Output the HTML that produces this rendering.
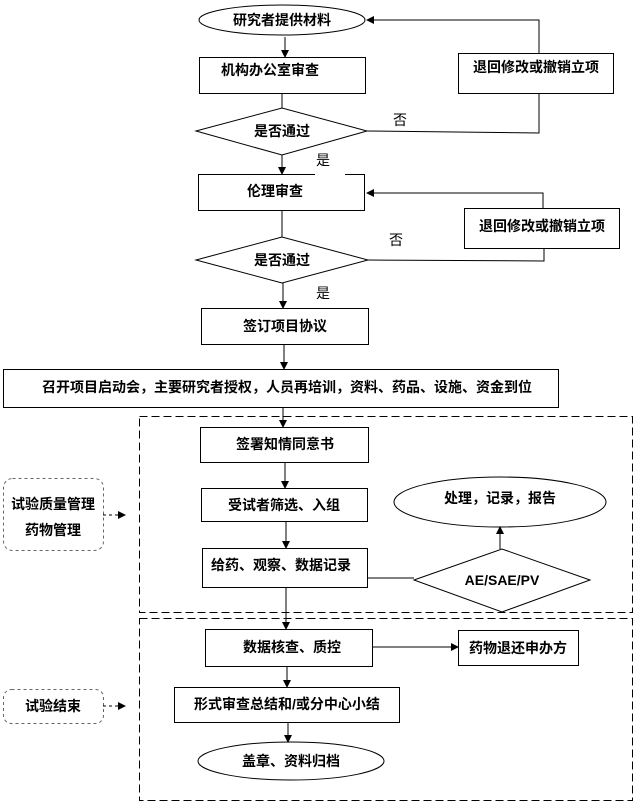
<!DOCTYPE html>
<html><head><meta charset="utf-8"><style>
html,body{margin:0;padding:0;background:#fff;}
svg text{font-family:"Liberation Sans","Noto Sans CJK SC",sans-serif;font-size:14px;font-weight:bold;fill:#000;}
.n{font-weight:normal}
</style></head><body>
<svg width="633" height="802" viewBox="0 0 633 802" xmlns="http://www.w3.org/2000/svg">
<defs><marker id="a" markerWidth="8" markerHeight="8" refX="7" refY="4" orient="auto" markerUnits="userSpaceOnUse"><path d="M0,0 L8,4 L0,8 z" fill="#000"/></marker></defs>
<g fill="none" stroke="#000" stroke-width="1">
<ellipse cx="282" cy="20" rx="83" ry="15"/>
<rect x="199.5" y="57.5" width="166" height="36"/>
<rect x="458.5" y="53.5" width="155" height="40"/>
<polygon points="196,131 282,108 367,131 282,155"/>
<rect x="198.5" y="174.5" width="166" height="36"/>
<rect x="464.5" y="208.5" width="155" height="40"/>
<polygon points="196,260 282,237 368,260 282,283"/>
<rect x="201.5" y="308.5" width="167" height="36"/>
<rect x="3.5" y="369.5" width="555" height="38"/>
<rect x="200.5" y="427.5" width="168" height="35"/>
<rect x="201.5" y="488.5" width="166" height="33"/>
<rect x="202.5" y="548.5" width="165" height="39"/>
<polygon points="414,580 502,549 590,580 502,612"/>
<ellipse cx="500" cy="502" rx="106" ry="25"/>
<rect x="205.5" y="629.5" width="167" height="37"/>
<rect x="458.5" y="630.5" width="120" height="35"/>
<rect x="174.5" y="687.5" width="225" height="35"/>
<ellipse cx="291" cy="761" rx="93" ry="19"/>
<g stroke-dasharray="8,4"><rect x="139.5" y="416.5" width="493" height="196"/><rect x="139.5" y="618.5" width="493" height="182"/></g>
<g stroke="#666" stroke-dasharray="3,3"><rect x="3.5" y="478.5" width="100" height="72" rx="9"/><rect x="3.5" y="689.5" width="100" height="34" rx="8"/>
<line x1="103" y1="515" x2="125" y2="515" marker-end="url(#a)" stroke="#000"/><line x1="103" y1="706" x2="125" y2="706" marker-end="url(#a)" stroke="#000"/></g>
<line x1="285" y1="37" x2="285" y2="57" marker-end="url(#a)"/>
<line x1="282" y1="93" x2="282" y2="108"/>
<polyline points="367,131 539,133 539,93"/>
<polyline points="539,53 539,20 367,20" marker-end="url(#a)"/>
<line x1="282" y1="155" x2="282" y2="174" marker-end="url(#a)"/>
<line x1="282" y1="210" x2="282" y2="237"/>
<polyline points="368,260 544,261 544,248"/>
<polyline points="543,208 543,193 367,193" marker-end="url(#a)"/>
<line x1="283" y1="283" x2="283" y2="308" marker-end="url(#a)"/>
<line x1="284" y1="344" x2="284" y2="369" marker-end="url(#a)"/>
<line x1="283" y1="407" x2="283" y2="427" marker-end="url(#a)"/>
<line x1="285" y1="462" x2="285" y2="488" marker-end="url(#a)"/>
<line x1="286" y1="521" x2="286" y2="548" marker-end="url(#a)"/>
<line x1="367" y1="578" x2="414" y2="578"/>
<line x1="500" y1="549" x2="500" y2="527" marker-end="url(#a)"/>
<line x1="286" y1="587" x2="286" y2="629" marker-end="url(#a)"/>
<line x1="372" y1="647" x2="458" y2="647" marker-end="url(#a)"/>
<line x1="287" y1="666" x2="287" y2="687" marker-end="url(#a)"/>
<line x1="288" y1="722" x2="288" y2="742" marker-end="url(#a)"/>
</g>
<rect x="315" y="170" width="30" height="9" fill="#fff"/>
<g text-anchor="middle">
<text x="282" y="25">研究者提供材料</text>
<text x="270" y="75">机构办公室审查</text>
<text x="536" y="72">退回修改或撤销立项</text>
<text x="282" y="136">是否通过</text>
<text x="275" y="196">伦理审查</text>
<text x="542" y="231">退回修改或撤销立项</text>
<text x="282" y="265">是否通过</text>
<text x="285" y="331">签订项目协议</text>
<text x="287" y="392">召开项目启动会，主要研究者授权，人员再培训，资料、药品、设施、资金到位</text>
<text x="285" y="449">签署知情同意书</text>
<text x="284" y="510">受试者筛选、入组</text>
<text x="281" y="570">给药、观察、数据记录</text>
<text x="502" y="585">AE/SAE/PV</text>
<text x="500" y="503">处理，记录，报告</text>
<text x="292" y="652">数据核查、质控</text>
<text x="518" y="653">药物退还申办方</text>
<text x="287" y="709">形式审查总结和/或分中心小结</text>
<text x="291" y="766">盖章、资料归档</text>
<text x="53" y="509">试验质量管理</text>
<text x="53" y="535">药物管理</text>
<text x="53" y="711">试验结束</text>
<text class="n" x="400" y="125">否</text>
<text class="n" x="323" y="165">是</text>
<text class="n" x="396" y="245">否</text>
<text class="n" x="323" y="298">是</text>
</g>
</svg>
</body></html>
